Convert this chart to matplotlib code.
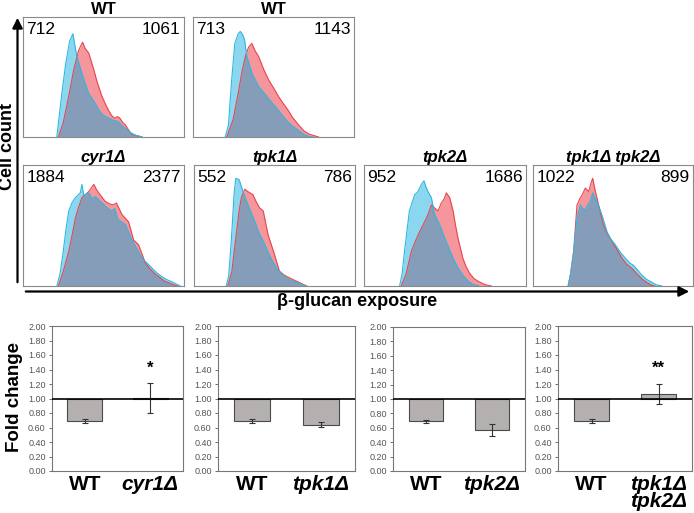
import numpy as np
import matplotlib
matplotlib.use("Agg")
from matplotlib import pyplot as plt
from matplotlib.patches import FancyArrowPatch

plt.rcParams['font.family'] = ['Liberation Sans', 'DejaVu Sans']

W, H = 694, 513

# histogram panels: titles, counts (blue, red), curves as (x %, y %) points
hist_titles = ['WT', 'WT', 'cyr1Δ', 'tpk1Δ', 'tpk2Δ', 'tpk1Δ tpk2Δ']
count_left = ['712', '713', '1884', '552', '952', '1022']
count_right = ['1061', '1143', '2377', '786', '1686', '899']

wt_a_blue = [(21, 0), (24, 35), (26.5, 61), (29, 80), (31, 86), (32, 78), (33.5, 67), (36.6, 53),
             (40.8, 36), (44, 30), (47, 22.5), (50, 18), (53, 16), (56, 14), (59, 13), (61, 10),
             (63.6, 7), (67, 3.5), (70, 1.5), (74, 0)]
wt_a_red = [(22, 0), (25, 12), (28.4, 34), (31.5, 56), (34.6, 72.5), (37, 79), (38.5, 74),
            (40.8, 70), (44, 56), (46, 46), (49, 34), (51, 28), (53, 22.5), (55, 18), (57, 15.6),
            (58.5, 17), (60, 16), (62, 12), (63.6, 10), (65.5, 6), (67.7, 2), (74, 0)]
wt_b_blue = [(20, 0), (22, 10), (24, 47.5), (26, 78), (28, 86), (29.4, 88), (31, 85), (32, 81),
             (33.5, 67), (36.6, 53), (40.8, 42), (44, 37), (47, 32), (50, 27), (53, 22.5),
             (56, 17), (59, 12.5), (62, 9), (65.6, 5.5), (69, 2), (72, 0.5), (75, 0)]
wt_b_red = [(21, 0), (25, 15), (28.4, 39), (30.5, 55), (32.5, 67), (34.6, 75), (36.6, 78),
            (38.5, 72), (40.8, 67), (44, 56), (47, 47.5), (50, 41), (53, 34), (56, 28),
            (59, 22.5), (62, 16), (65.6, 10), (69, 5), (72, 2.5), (78, 0)]
cyr1_blue = [(21, 0), (23, 10), (25, 28.6), (26.5, 45), (28.4, 62), (30.5, 69), (32.5, 73),
             (35.6, 77), (36.6, 84), (37.7, 75), (40.8, 77), (43, 72), (45, 74), (49, 68.6),
             (52, 65), (55, 62), (57, 64), (59, 55), (63.6, 50.7), (67.7, 38), (71, 30),
             (73.9, 23), (77, 19), (80, 15), (83, 11), (86, 8), (89, 5.5), (92.5, 3.4), (97.7, 0)]
cyr1_red = [(22, 0), (25, 12), (28.4, 28.6), (30.5, 42), (32.5, 56), (34.5, 65), (36.6, 73),
            (40.8, 78), (44, 84), (45.5, 80), (47, 77), (51, 70), (53.5, 68), (56, 67),
            (58, 68.6), (61.5, 59), (65.6, 53), (68.7, 38), (71.8, 34), (76, 19), (79, 14),
            (82, 10), (88, 4), (94.5, 0.5), (96, 0)]
tpk1_blue = [(20, 0), (21.5, 8), (23, 34), (25, 78), (26, 89), (28, 88), (29, 84), (30.4, 78),
             (33.5, 67), (37.7, 53.5), (40, 45), (43, 37), (46, 28), (49, 20), (52, 13.5),
             (55, 9), (58, 6), (61.5, 4), (65, 2), (70, 0)]
tpk1_red = [(21, 0), (23.5, 12), (26, 40), (28, 62), (29.4, 73), (31.5, 80), (33.5, 78),
            (36.6, 75.5), (38.5, 70), (40.8, 64.5), (43, 62), (46, 42.4), (50, 26), (53, 12.4),
            (56, 9), (59.5, 6.6), (63.6, 4), (70, 0)]
tpk2_blue = [(22, 0), (23.5, 10), (25, 28.6), (28, 62), (31.3, 75.5), (33.3, 78), (35.4, 84),
             (37, 87), (38.2, 82), (39.5, 78), (41.6, 73), (43.6, 59), (46.7, 50.7),
             (49.8, 39.6), (52.5, 31), (55, 23), (58, 15), (61, 9), (64, 4.5), (67, 1.5), (71, 0)]
tpk2_red = [(23, 0), (26, 10), (29.2, 28.6), (32, 38), (34.4, 45), (37, 52), (39.5, 59),
            (41.6, 67), (43.6, 64.5), (45.7, 62), (47.7, 68.6), (49.5, 72), (50.8, 77),
            (52.9, 73), (55, 62), (56.5, 50), (58, 39.6), (61, 23), (63, 16), (65.2, 10.5),
            (68, 6), (71, 3.5), (75, 1), (78.6, 0)]
dbl_red = [(22, 0), (23.5, 10), (25.4, 28.6), (27.5, 67), (29.6, 73), (31, 76), (32.7, 81),
           (34.8, 78), (36.2, 85), (37.3, 89), (39, 78), (41, 67), (44, 50.7), (46.5, 43),
           (49.4, 37), (52.5, 30), (55.6, 23), (58.5, 18), (61.9, 14.6), (65, 10), (68, 6),
           (71, 3), (74.4, 0.5), (76, 0)]
dbl_blue = [(21.9, 0), (23.5, 10), (25.4, 28.6), (27.5, 56), (29.6, 67), (31, 64), (32.7, 63),
            (34.2, 67), (35.8, 70), (37.3, 77), (38.5, 73), (40, 70), (43, 59), (46.2, 45),
            (48.5, 39), (51.5, 34), (54.5, 28), (57.7, 23), (60.5, 19), (62.9, 17), (65.5, 13),
            (68, 9), (71, 5.5), (74.4, 3), (77, 1), (80.6, 0)]

hist_blue = [wt_a_blue, wt_b_blue, cyr1_blue, tpk1_blue, tpk2_blue, dbl_blue]
hist_red = [wt_a_red, wt_b_red, cyr1_red, tpk1_red, tpk2_red, dbl_red]

# bar panels: fold change (mean, error)
bar_labels = [['WT', 'cyr1Δ'], ['WT', 'tpk1Δ'], ['WT', 'tpk2Δ'], ['WT', 'tpk1Δ\ntpk2Δ']]
wt_fold = [0.69, 0.69, 0.69, 0.69]
wt_err = [0.025, 0.025, 0.025, 0.025]
mut_fold = [1.01, 0.64, 0.57, 1.06]
mut_err = [0.205, 0.035, 0.08, 0.135]
stars = ['*', '', '', '**']
y_ticks = [0.0, 0.2, 0.4, 0.6, 0.8, 1.0, 1.2, 1.4, 1.6, 1.8, 2.0]


def px_axes(fig, x0, y0, x1, y1):
    return fig.add_axes([x0 / W, 1 - y1 / H, (x1 - x0) / W, (y1 - y0) / H])


def fpos(x, y):
    return (x / W, 1 - y / H)


fig = plt.figure(figsize=(W / 100, H / 100), dpi=100)

# histogram boxes (x0, y0, x1, y1) in pixels
hist_boxes = [(23, 17, 184, 137), (193, 17, 354, 137),
              (23, 165, 184, 286), (194, 165, 355, 286),
              (364, 165, 526, 286), (533, 165, 693, 286)]

red_fill = (236 / 255, 64 / 255, 73 / 255)
blue_fill = (0.0, 167 / 255, 222 / 255)

for i, box in enumerate(hist_boxes):
    ax = px_axes(fig, *box)
    rx, ry = zip(*hist_red[i])
    bx, by = zip(*hist_blue[i])
    ax.fill_between(rx, ry, 0, color=red_fill, alpha=0.55, lw=0)
    ax.plot(rx, ry, color='#e64650', lw=0.8)
    ax.fill_between(bx, by, 0, color=blue_fill, alpha=0.45, lw=0)
    ax.plot(bx, by, color='#2fb6e0', lw=0.8)
    ax.set_xlim(0, 100)
    ax.set_ylim(0, 100)
    ax.set_xticks([])
    ax.set_yticks([])
    for s in ax.spines.values():
        s.set_color('#8a8a8a')
        s.set_linewidth(0.8)
    ax.text(0.02, 0.955, count_left[i], transform=ax.transAxes, ha='left', va='top', fontsize=12.5)
    ax.text(0.98, 0.955, count_right[i], transform=ax.transAxes, ha='right', va='top', fontsize=12.5)
    style = 'normal' if hist_titles[i] == 'WT' else 'italic'
    tx, ty = fpos((box[0] + box[2]) / 2, box[1] - 3)
    fig.text(tx, ty, hist_titles[i], ha='center', va='baseline',
             fontsize=12, fontweight='bold', fontstyle=style)

# axis arrows for histograms
fig.add_artist(FancyArrowPatch(fpos(17.5, 285), fpos(17.5, 15), transform=fig.transFigure,
                               arrowstyle='-|>,head_length=6,head_width=3', color='black',
                               lw=1.6, mutation_scale=1))
fig.add_artist(FancyArrowPatch(fpos(23, 291.5), fpos(692, 291.5), transform=fig.transFigure,
                               arrowstyle='-|>,head_length=6,head_width=3', color='black',
                               lw=1.6, mutation_scale=1))
fig.text(*fpos(8, 147), 'Cell count', rotation=90, ha='center', va='center',
         fontsize=13, fontweight='bold')
fig.text(*fpos(357, 306), 'β-glucan exposure', ha='center', va='baseline',
         fontsize=13, fontweight='bold')

# bar charts
bar_boxes = [(52, 326, 183, 471), (218, 326, 355, 471), (393, 327, 525, 471), (558, 326, 692, 471)]

for i, box in enumerate(bar_boxes):
    ax = px_axes(fig, *box)
    vals = [wt_fold[i], mut_fold[i]]
    errs = [wt_err[i], mut_err[i]]
    xs = np.arange(2)
    ax.bar(xs, [v - 1 for v in vals], bottom=1, width=0.53, color='#b5b0b0',
           edgecolor='#4a4a4a', linewidth=0.8, zorder=2)
    ax.errorbar(xs, vals, yerr=errs, fmt='none', ecolor='#333333', elinewidth=0.8,
                capsize=2.5, capthick=0.8, zorder=3)
    ax.axhline(1.0, color='black', lw=1.2, zorder=4)
    if stars[i]:
        ax.text(1, 1.31, stars[i], ha='center', va='bottom', fontsize=12, fontweight='bold')
    ax.set_xlim(-0.5, 1.5)
    ax.set_ylim(0, 2)
    ax.set_yticks(y_ticks)
    ax.set_yticklabels(['%.2f' % t for t in y_ticks])
    ax.tick_params(axis='y', labelsize=6.5, length=2.5, width=0.6, colors='#555555', pad=2)
    ax.set_xticks(xs)
    ax.set_xticklabels(bar_labels[i])
    ax.tick_params(axis='x', length=0, pad=3)
    for j, lab in enumerate(ax.get_xticklabels()):
        lab.set_fontsize(15)
        lab.set_fontweight('bold')
        lab.set_color('black')
        if j == 1:
            lab.set_fontstyle('italic')
        if '\n' in bar_labels[i][j]:
            lab.set_linespacing(0.85)
    for s in ax.spines.values():
        s.set_color('#777777')
        s.set_linewidth(0.8)

fig.text(*fpos(15, 397), 'Fold change', rotation=90, ha='center', va='center',
         fontsize=13.5, fontweight='bold')

fig.savefig('out.png', dpi=100)
